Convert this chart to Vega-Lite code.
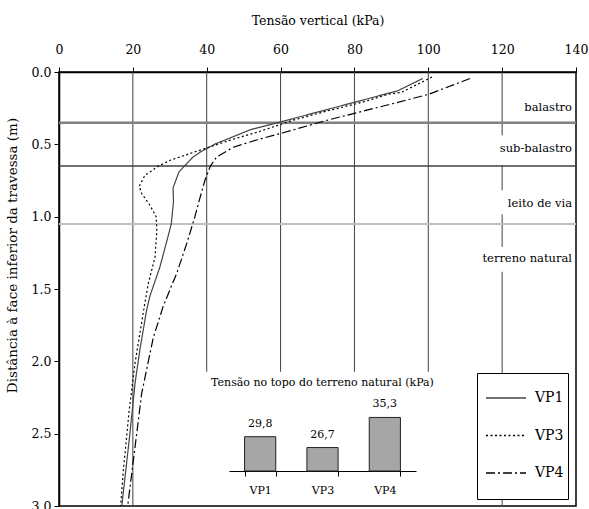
{
  "$schema": "https://vega.github.io/schema/vega-lite/v6.json",
  "width": 517,
  "height": 434,
  "autosize": {"type": "none"},
  "padding": {"left": 59, "top": 72, "right": 13, "bottom": 3},
  "background": "white",
  "config": {
    "font": "DejaVu Serif",
    "view": {"stroke": "black", "strokeWidth": 1.5},
    "axis": {"labelColor": "black", "titleColor": "black", "domainColor": "black", "tickColor": "black", "titleFontWeight": "normal", "labelFont": "DejaVu Serif", "titleFont": "DejaVu Serif"},
    "legend": {"labelFont": "DejaVu Serif", "titleFont": "DejaVu Serif"},
    "text": {"font": "DejaVu Serif", "color": "black"}
  },
  "resolve": {"scale": {"x": "independent", "y": "independent"}},
  "layer": [
    {
      "layer": [
        {
          "data": {"values": [
            {"kpa": 20, "prof": 0, "prof2": 3},
            {"kpa": 40, "prof": 0, "prof2": 2.072},
            {"kpa": 60, "prof": 0, "prof2": 2.072},
            {"kpa": 80, "prof": 0, "prof2": 2.072},
            {"kpa": 100, "prof": 0, "prof2": 2.072},
            {"kpa": 120, "prof": 0, "prof2": 0.438},
            {"kpa": 120, "prof": 0.645, "prof2": 0.818},
            {"kpa": 120, "prof": 0.984, "prof2": 1.209},
            {"kpa": 120, "prof": 1.381, "prof2": 3}
          ]},
          "mark": {"type": "rule", "color": "#404040", "strokeWidth": 1},
          "encoding": {
            "x": {"field": "kpa", "type": "quantitative",
              "scale": {"domain": [0, 140], "nice": false, "zero": false},
              "axis": {"orient": "top", "title": "Tensão vertical (kPa)", "values": [0, 20, 40, 60, 80, 100, 120, 140], "grid": false, "tickSize": 5, "labelPadding": 11, "labelFontSize": 12.5, "titleFontSize": 12.5, "titleY": -52, "titleBaseline": "middle", "labelFlush": false, "domainWidth": 1.5}},
            "y": {"field": "prof", "type": "quantitative",
              "scale": {"domain": [0, 3], "reverse": true, "nice": false, "zero": false},
              "axis": {"orient": "left", "title": "Distância à face inferior da travessa (m)", "values": [0, 0.5, 1, 1.5, 2, 2.5, 3], "format": ".1f", "grid": false, "tickSize": 5, "labelPadding": 3, "labelFontSize": 12.5, "titleFontSize": 13.5, "titleX": -47, "titleY": 183, "titleBaseline": "middle", "labelFlush": false, "labelOverlap": false, "domainWidth": 1.5}},
            "y2": {"field": "prof2"}
          }
        },
        {
          "data": {"values": [{}]},
          "mark": {"type": "rule", "color": "#808080", "strokeWidth": 2.5},
          "encoding": {"y": {"datum": 0.35, "type": "quantitative"}}
        },
        {
          "data": {"values": [{}]},
          "mark": {"type": "rule", "color": "#404040", "strokeWidth": 1.5},
          "encoding": {"y": {"datum": 0.65, "type": "quantitative"}}
        },
        {
          "data": {"values": [{}]},
          "mark": {"type": "rule", "color": "#c0c0c0", "strokeWidth": 2},
          "encoding": {"y": {"datum": 1.05, "type": "quantitative"}}
        },
        {
          "data": {"values": [
            {"label": "balastro", "prof": 0.246},
            {"label": "sub-balastro", "prof": 0.529},
            {"label": "leito de via", "prof": 0.909},
            {"label": "terreno natural", "prof": 1.296}
          ]},
          "mark": {"type": "text", "align": "right", "baseline": "middle", "dx": -4, "fontSize": 11.5},
          "encoding": {
            "x": {"datum": 140, "type": "quantitative"},
            "y": {"field": "prof", "type": "quantitative"},
            "text": {"field": "label"}
          }
        },
        {
          "data": {"values": [
            {"serie": "VP1", "kpa": 98.5, "prof": 0.045},
            {"serie": "VP1", "kpa": 91.7, "prof": 0.13},
            {"serie": "VP1", "kpa": 60.0, "prof": 0.345},
            {"serie": "VP1", "kpa": 51.7, "prof": 0.40},
            {"serie": "VP1", "kpa": 45.0, "prof": 0.47},
            {"serie": "VP1", "kpa": 42.5, "prof": 0.495},
            {"serie": "VP1", "kpa": 38.5, "prof": 0.55},
            {"serie": "VP1", "kpa": 36.2, "prof": 0.59},
            {"serie": "VP1", "kpa": 32.5, "prof": 0.69},
            {"serie": "VP1", "kpa": 30.9, "prof": 0.80},
            {"serie": "VP1", "kpa": 31.0, "prof": 0.90},
            {"serie": "VP1", "kpa": 30.4, "prof": 1.05},
            {"serie": "VP1", "kpa": 29.6, "prof": 1.13},
            {"serie": "VP1", "kpa": 27.3, "prof": 1.35},
            {"serie": "VP1", "kpa": 24.6, "prof": 1.55},
            {"serie": "VP1", "kpa": 23.7, "prof": 1.65},
            {"serie": "VP1", "kpa": 21.9, "prof": 1.92},
            {"serie": "VP1", "kpa": 20.6, "prof": 2.15},
            {"serie": "VP1", "kpa": 19.2, "prof": 2.5},
            {"serie": "VP1", "kpa": 17.0, "prof": 3.0},
            {"serie": "VP3", "kpa": 101.0, "prof": 0.035},
            {"serie": "VP3", "kpa": 92.8, "prof": 0.14},
            {"serie": "VP3", "kpa": 89.0, "prof": 0.155},
            {"serie": "VP3", "kpa": 82.4, "prof": 0.207},
            {"serie": "VP3", "kpa": 72.5, "prof": 0.27},
            {"serie": "VP3", "kpa": 63.4, "prof": 0.333},
            {"serie": "VP3", "kpa": 54.4, "prof": 0.41},
            {"serie": "VP3", "kpa": 46.5, "prof": 0.47},
            {"serie": "VP3", "kpa": 38.2, "prof": 0.54},
            {"serie": "VP3", "kpa": 30.1, "prof": 0.61},
            {"serie": "VP3", "kpa": 26.5, "prof": 0.656},
            {"serie": "VP3", "kpa": 25.1, "prof": 0.684},
            {"serie": "VP3", "kpa": 23.3, "prof": 0.713},
            {"serie": "VP3", "kpa": 21.7, "prof": 0.79},
            {"serie": "VP3", "kpa": 22.4, "prof": 0.84},
            {"serie": "VP3", "kpa": 24.6, "prof": 0.92},
            {"serie": "VP3", "kpa": 26.3, "prof": 1.0},
            {"serie": "VP3", "kpa": 26.5, "prof": 1.09},
            {"serie": "VP3", "kpa": 26.0, "prof": 1.28},
            {"serie": "VP3", "kpa": 24.2, "prof": 1.46},
            {"serie": "VP3", "kpa": 23.1, "prof": 1.62},
            {"serie": "VP3", "kpa": 20.6, "prof": 2.01},
            {"serie": "VP3", "kpa": 19.0, "prof": 2.34},
            {"serie": "VP3", "kpa": 17.4, "prof": 2.76},
            {"serie": "VP3", "kpa": 16.7, "prof": 3.0},
            {"serie": "VP4", "kpa": 111.3, "prof": 0.045},
            {"serie": "VP4", "kpa": 100.0, "prof": 0.155},
            {"serie": "VP4", "kpa": 90.5, "prof": 0.218},
            {"serie": "VP4", "kpa": 72.5, "prof": 0.334},
            {"serie": "VP4", "kpa": 60.7, "prof": 0.42},
            {"serie": "VP4", "kpa": 53.5, "prof": 0.47},
            {"serie": "VP4", "kpa": 47.2, "prof": 0.52},
            {"serie": "VP4", "kpa": 42.7, "prof": 0.587},
            {"serie": "VP4", "kpa": 41.0, "prof": 0.65},
            {"serie": "VP4", "kpa": 39.5, "prof": 0.75},
            {"serie": "VP4", "kpa": 38.0, "prof": 0.886},
            {"serie": "VP4", "kpa": 36.8, "prof": 1.0},
            {"serie": "VP4", "kpa": 34.6, "prof": 1.185},
            {"serie": "VP4", "kpa": 31.9, "prof": 1.39},
            {"serie": "VP4", "kpa": 28.2, "prof": 1.62},
            {"serie": "VP4", "kpa": 25.5, "prof": 1.84},
            {"serie": "VP4", "kpa": 22.4, "prof": 2.22},
            {"serie": "VP4", "kpa": 20.6, "prof": 2.59},
            {"serie": "VP4", "kpa": 18.6, "prof": 3.0}
          ]},
          "mark": {"type": "line", "strokeWidth": 1.2},
          "encoding": {
            "x": {"field": "kpa", "type": "quantitative"},
            "y": {"field": "prof", "type": "quantitative"},
            "order": {"field": "prof", "type": "quantitative"},
            "stroke": {"field": "serie", "type": "nominal",
              "scale": {"domain": ["VP1", "VP3", "VP4"], "range": ["#444444", "#000000", "#000000"]},
              "legend": {"title": " ", "titleOrient": "bottom", "titleFontSize": 8, "titlePadding": 7, "titleFont": "DejaVu Serif", "orient": "none", "legendX": 418, "legendY": 301, "symbolType": "stroke", "symbolSize": 1600, "symbolStrokeWidth": 1.5, "symbolOffset": 4, "labelFont": "DejaVu Serif", "labelFontSize": 14, "labelColor": "black", "labelOffset": 8, "padding": 4, "rowPadding": 9.5, "strokeColor": "black", "fillColor": "white"}},
            "strokeDash": {"field": "serie", "type": "nominal",
              "scale": {"domain": ["VP1", "VP3", "VP4"], "range": [[1, 0], [2, 2.5], [9, 3, 2, 3]]},
              "legend": {"title": " ", "titleOrient": "bottom", "titleFontSize": 8, "titlePadding": 7, "titleFont": "DejaVu Serif", "orient": "none", "legendX": 418, "legendY": 301, "symbolType": "stroke", "symbolSize": 1600, "symbolStrokeWidth": 1.5, "symbolOffset": 4, "labelFont": "DejaVu Serif", "labelFontSize": 14, "labelColor": "black", "labelOffset": 8, "padding": 4, "rowPadding": 9.5, "strokeColor": "black", "fillColor": "white"}}
          }
        }
      ]
    },
    {
      "data": {"values": [
        {"poco": "VP1", "tensao": 29.8, "rotulo": "29,8"},
        {"poco": "VP3", "tensao": 26.7, "rotulo": "26,7"},
        {"poco": "VP4", "tensao": 35.3, "rotulo": "35,3"}
      ]},
      "layer": [
        {
          "mark": {"type": "bar", "fill": "#a6a6a6", "stroke": "#222222", "strokeWidth": 1},
          "encoding": {
            "x": {"field": "poco", "type": "nominal",
              "scale": {"type": "band", "domain": ["VP1", "VP3", "VP4"], "range": [170, 357], "paddingInner": 0.5, "paddingOuter": 0.25},
              "axis": {"orient": "bottom", "offset": -35, "tickBand": "extent", "title": null, "labelAngle": 0, "labelFontSize": 11, "tickSize": 5, "labelPadding": 8, "domainWidth": 1, "grid": false}},
            "y": {"field": "tensao", "type": "quantitative",
              "scale": {"domain": [20, 40], "range": [399, 329], "zero": false, "nice": false},
              "axis": null},
            "y2": {"datum": 20}
          }
        },
        {
          "mark": {"type": "text", "baseline": "middle", "dy": -13, "fontSize": 11},
          "encoding": {
            "x": {"field": "poco", "type": "nominal"},
            "y": {"field": "tensao", "type": "quantitative"},
            "text": {"field": "rotulo"}
          }
        },
        {
          "data": {"values": [{}]},
          "mark": {"type": "text", "baseline": "middle", "fontSize": 11},
          "encoding": {
            "x": {"datum": "VP3", "type": "nominal"},
            "y": {"datum": 45.2, "type": "quantitative"},
            "text": {"value": "Tensão no topo do terreno natural (kPa)"}
          }
        }
      ]
    }
  ]
}
